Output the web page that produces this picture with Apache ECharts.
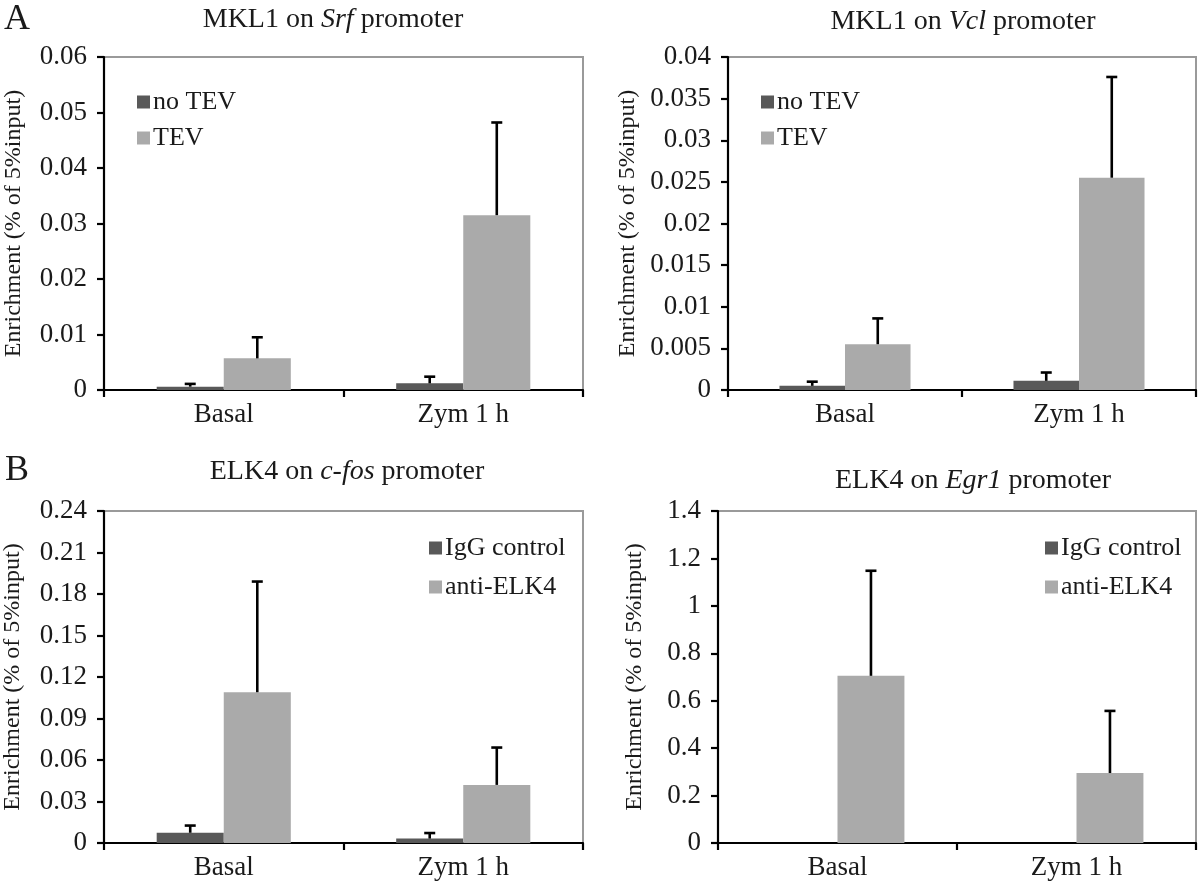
<!DOCTYPE html>
<html>
<head>
<meta charset="utf-8">
<script src="https://cdn.jsdelivr.net/npm/echarts@6/dist/echarts.min.js"></script>
<style>
html,body{margin:0;padding:0;background:#fff;}
#c{width:1200px;height:889px;}
</style>
</head>
<body>
<div id="c"></div>
<script>
// ---- data ----
const categories = ['Basal', 'Zym 1 h'];

// Panel A left: MKL1 on Srf promoter
const srfNoTev = [0.0006, 0.0012];
const srfNoTevErr = [0.0005, 0.0012];
const srfTev = [0.0057, 0.0315];
const srfTevErr = [0.0038, 0.0167];

// Panel A right: MKL1 on Vcl promoter
const vclNoTev = [0.0005, 0.0011];
const vclNoTevErr = [0.0005, 0.0010];
const vclTev = [0.0055, 0.0255];
const vclTevErr = [0.0031, 0.0121];

// Panel B left: ELK4 on c-fos promoter
const fosIgG = [0.0074, 0.0032];
const fosIgGErr = [0.0052, 0.0040];
const fosAnti = [0.109, 0.042];
const fosAntiErr = [0.080, 0.027];

// Panel B right: ELK4 on Egr1 promoter
const egrIgG = [0, 0];
const egrAnti = [0.705, 0.295];
const egrAntiErr = [0.443, 0.262];

// y axis ranges / tick steps
const yMax = [0.06, 0.04, 0.24, 1.4];
const yStep = [0.01, 0.005, 0.03, 0.2];

// ---- styles ----
const FONT = 'Liberation Serif, Times New Roman, serif';
const DARK = '#595959';
const LIGHT = '#aaaaaa';
const TXT = '#1a1a1a';

const grids = [
  {left: 104, right: 617, top: 57, bottom: 499},
  {left: 728, right: 4, top: 57, bottom: 499},
  {left: 104, right: 617, top: 511, bottom: 46},
  {left: 718, right: 4, top: 511, bottom: 46}
];
const nameGaps = [78, 88, 79, 71];

const BARW = 0.28;

function errSeries(gi, vals, errs, side) {
  return {
    type: 'custom',
    xAxisIndex: gi, yAxisIndex: gi,
    z: 10,
    silent: true,
    data: vals.map((v, i) => [i, v, errs[i]]),
    encode: {x: 0, y: 1},
    renderItem: function (params, api) {
      const x = api.value(0), v = api.value(1), e = api.value(2);
      const b = api.coord([x, v]);
      const t = api.coord([x, v + e]);
      const band = api.size([1, 0])[0];
      const cx = b[0] + side * band * BARW / 2;
      const st = {stroke: '#000', lineWidth: 2.6};
      return {
        type: 'group',
        children: [
          {type: 'line', shape: {x1: cx, y1: b[1], x2: cx, y2: t[1]}, style: st},
          {type: 'line', shape: {x1: cx - 5.5, y1: t[1], x2: cx + 5.5, y2: t[1]}, style: st}
        ]
      };
    }
  };
}

function barSeries(gi, name, vals, color) {
  return {
    type: 'bar', name: name,
    xAxisIndex: gi, yAxisIndex: gi,
    data: vals,
    barWidth: (BARW * 100) + '%',
    barGap: '0%',
    itemStyle: {color: color},
    emphasis: {disabled: true}
  };
}

const xAxes = grids.map((g, i) => ({
  type: 'category', gridIndex: i, data: categories,
  axisLine: {lineStyle: {color: '#000', width: 2.2}},
  axisTick: {show: true, length: 7, lineStyle: {color: '#000', width: 2.2}},
  axisLabel: {color: TXT, fontFamily: FONT, fontSize: 27, margin: 11}
}));

const yAxes = grids.map((g, i) => ({
  type: 'value', gridIndex: i, min: 0, max: yMax[i], interval: yStep[i],
  name: 'Enrichment (% of 5%input)',
  nameLocation: 'middle', nameRotate: 90, nameGap: nameGaps[i],
  nameTextStyle: {color: TXT, fontFamily: FONT, fontSize: 24},
  axisLine: {show: true, lineStyle: {color: '#000', width: 2.2}},
  axisTick: {show: true, length: 7, lineStyle: {color: '#000', width: 2.2}},
  splitLine: {show: false},
  axisLabel: {color: TXT, fontFamily: FONT, fontSize: 27, margin: 17}
}));

function legend(left, top, names, fs, gap) {
  return {
    orient: 'vertical', left: left, top: top, data: names,
    icon: 'rect', itemWidth: 13, itemHeight: 13, itemGap: gap,
    selectedMode: false,
    textStyle: {color: TXT, fontFamily: FONT, fontSize: fs, padding: [0, 0, 0, -2]}
  };
}

function titleText(x, y, pre, ital, post) {
  return {
    type: 'text', x: x, y: y,
    style: {
      text: '{n|' + pre + '}{i|' + ital + '}{n|' + post + '}',
      align: 'center', verticalAlign: 'middle',
      rich: {
        n: {fontFamily: FONT, fontSize: 28, fill: TXT},
        i: {fontFamily: FONT, fontSize: 28, fontStyle: 'italic', fill: TXT}
      }
    }
  };
}

const option = {
  backgroundColor: '#fff',
  animation: false,
  grid: grids.map(g => Object.assign({show: true, borderColor: '#9a9a9a', borderWidth: 2, backgroundColor: 'transparent'}, g)),
  xAxis: xAxes,
  yAxis: yAxes,
  legend: [
    legend(132, 84, ['no TEV', 'TEV'], 26, 10),
    legend(756, 84, ['no TEV', 'TEV'], 26, 10),
    legend(424, 530, ['IgG control', 'anti-ELK4'], 26, 13),
    legend(1040, 530, ['IgG control', 'anti-ELK4'], 26, 13)
  ],
  graphic: [
    {type: 'text', x: 17, y: 20, style: {text: 'A', font: '36px ' + FONT, fill: TXT, align: 'center', verticalAlign: 'middle'}},
    {type: 'text', x: 17, y: 471, style: {text: 'B', font: '36px ' + FONT, fill: TXT, align: 'center', verticalAlign: 'middle'}},
    titleText(333, 20, 'MKL1 on ', 'Srf', ' promoter'),
    titleText(963, 22, 'MKL1 on ', 'Vcl', ' promoter'),
    titleText(347, 472, 'ELK4 on ', 'c-fos', ' promoter'),
    titleText(973, 481, 'ELK4 on ', 'Egr1', ' promoter')
  ],
  series: [
    barSeries(0, 'no TEV', srfNoTev, DARK),
    barSeries(0, 'TEV', srfTev, LIGHT),
    errSeries(0, srfNoTev, srfNoTevErr, -1),
    errSeries(0, srfTev, srfTevErr, 1),

    barSeries(1, 'no TEV', vclNoTev, DARK),
    barSeries(1, 'TEV', vclTev, LIGHT),
    errSeries(1, vclNoTev, vclNoTevErr, -1),
    errSeries(1, vclTev, vclTevErr, 1),

    barSeries(2, 'IgG control', fosIgG, DARK),
    barSeries(2, 'anti-ELK4', fosAnti, LIGHT),
    errSeries(2, fosIgG, fosIgGErr, -1),
    errSeries(2, fosAnti, fosAntiErr, 1),

    barSeries(3, 'IgG control', egrIgG, DARK),
    barSeries(3, 'anti-ELK4', egrAnti, LIGHT),
    errSeries(3, egrAnti, egrAntiErr, 1)
  ]
};

const chart = echarts.init(document.getElementById('c'), null, {renderer: 'canvas'});
chart.setOption(option);
</script>
</body>
</html>
